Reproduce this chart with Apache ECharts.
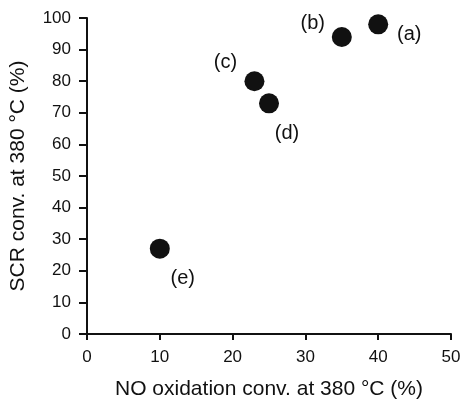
<!DOCTYPE html>
<html>
<head>
<meta charset="utf-8">
<script src="https://cdn.jsdelivr.net/npm/echarts@6/dist/echarts.min.js"></script>
<style>
  html, body { margin: 0; padding: 0; background: #fff; }
  #chart { width: 461px; height: 400px; }
</style>
</head>
<body>
<div id="chart"></div>
<script>
// Catalyst samples: NO oxidation vs SCR conversion, both at 380 °C
const sampleNames = ['(a)', '(b)', '(c)', '(d)', '(e)'];
const noOxidation = [40, 35, 23, 25, 10];
const scrConversion = [98, 94, 80, 73, 27];
const xTicks = [0, 10, 20, 30, 40, 50];
const yTicks = [0, 10, 20, 30, 40, 50, 60, 70, 80, 90, 100];

// label placement relative to each marker (pixels)
const labelOffsets = {
  '(a)': [31, 10],
  '(b)': [-29, -13],
  '(c)': [-29, -19],
  '(d)': [18, 30],
  '(e)': [23, 30]
};

const font = 'Liberation Sans, Arial, Helvetica, sans-serif';
const ink = '#111';

const points = sampleNames.map((n, i) => ({
  name: n,
  value: [noOxidation[i], scrConversion[i]],
  label: { offset: labelOffsets[n] }
}));

const chart = echarts.init(document.getElementById('chart'), null, { renderer: 'canvas' });
chart.setOption({
  animation: false,
  backgroundColor: '#fff',
  grid: {
    left: 87, right: 10, top: 18, bottom: 66,
    containLabel: false, outerBoundsMode: 'none'
  },
  xAxis: {
    type: 'value',
    min: xTicks[0], max: xTicks[xTicks.length - 1], interval: 10,
    name: 'NO oxidation conv. at 380 °C (%)',
    nameLocation: 'middle', nameGap: 45,
    nameTextStyle: { fontFamily: font, fontSize: 21, color: ink },
    axisLine: { show: true, onZero: false, lineStyle: { color: ink, width: 2 } },
    axisTick: { show: true, length: 6, lineStyle: { color: ink, width: 2 } },
    axisLabel: { margin: 15, fontFamily: font, fontSize: 17, color: ink },
    splitLine: { show: false }
  },
  yAxis: {
    type: 'value',
    min: yTicks[0], max: yTicks[yTicks.length - 1], interval: 10,
    name: 'SCR conv. at 380 °C (%)',
    nameLocation: 'middle', nameGap: 58,
    nameTextStyle: { fontFamily: font, fontSize: 21, color: ink },
    axisLine: { show: true, onZero: false, lineStyle: { color: ink, width: 2 } },
    axisTick: { show: true, length: 8, lineStyle: { color: ink, width: 2 } },
    axisLabel: { margin: 16, fontFamily: font, fontSize: 17, color: ink },
    splitLine: { show: false }
  },
  series: [{
    type: 'scatter',
    symbol: 'circle',
    symbolSize: 20,
    itemStyle: { color: ink, opacity: 1 },
    label: {
      show: true,
      position: 'inside',
      formatter: p => p.name,
      fontFamily: font, fontSize: 20, color: ink
    },
    data: points
  }]
});
</script>
</body>
</html>
